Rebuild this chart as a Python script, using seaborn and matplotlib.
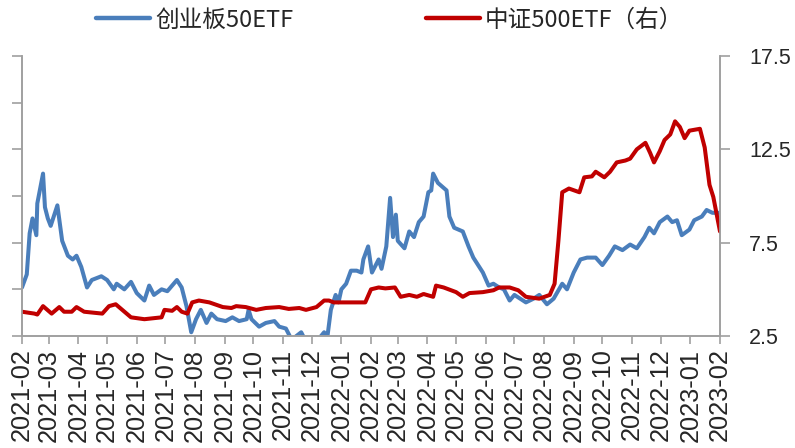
import pandas as pd
import seaborn as sns
import matplotlib.pyplot as plt
import matplotlib.dates as mdates
from matplotlib.lines import Line2D

# series
blue_name = "创业板50ETF"
red_name = "中证500ETF（右）"

blue_dates = ["2021-02-01", "2021-02-06", "2021-02-09", "2021-02-12", "2021-02-16", "2021-02-17", "2021-02-23", "2021-02-25", "2021-02-28", "2021-03-03",
              "2021-03-10", "2021-03-15", "2021-03-21", "2021-03-26", "2021-03-30", "2021-04-04", "2021-04-10", "2021-04-15", "2021-04-25", "2021-05-01",
              "2021-05-08", "2021-05-11", "2021-05-19", "2021-05-26", "2021-06-01", "2021-06-09", "2021-06-14", "2021-06-19", "2021-06-27", "2021-07-03",
              "2021-07-13", "2021-07-18", "2021-07-23", "2021-07-28", "2021-08-02", "2021-08-07", "2021-08-13", "2021-08-18", "2021-08-24", "2021-09-02",
              "2021-09-09", "2021-09-16", "2021-09-24", "2021-09-26", "2021-09-29", "2021-10-07", "2021-10-14", "2021-10-23", "2021-10-28", "2021-11-04",
              "2021-11-10", "2021-11-20", "2021-11-25", "2021-12-06", "2021-12-14", "2021-12-17", "2021-12-21", "2021-12-26", "2021-12-29", "2022-01-01",
              "2022-01-06", "2022-01-11", "2022-01-17", "2022-01-22", "2022-01-24", "2022-01-29", "2022-02-02", "2022-02-09", "2022-02-12", "2022-02-17",
              "2022-02-21", "2022-02-24", "2022-02-27", "2022-03-01", "2022-03-08", "2022-03-13", "2022-03-18", "2022-03-23", "2022-03-28", "2022-04-02",
              "2022-04-05", "2022-04-07", "2022-04-12", "2022-04-21", "2022-04-24", "2022-04-29", "2022-05-08", "2022-05-14", "2022-05-19", "2022-05-24",
              "2022-05-29", "2022-06-04", "2022-06-09", "2022-06-15", "2022-06-20", "2022-06-26", "2022-07-01", "2022-07-13", "2022-07-21", "2022-07-27",
              "2022-08-04", "2022-08-11", "2022-08-20", "2022-08-25", "2022-09-01", "2022-09-08", "2022-09-15", "2022-09-24", "2022-10-01", "2022-10-08",
              "2022-10-14", "2022-10-22", "2022-10-30", "2022-11-06", "2022-11-14", "2022-11-19", "2022-11-24", "2022-11-30", "2022-12-08", "2022-12-13",
              "2022-12-18", "2022-12-23", "2022-12-31", "2023-01-05", "2023-01-13", "2023-01-18", "2023-01-24", "2023-02-01"]
blue_values = [5.1, 5.8, 8.0, 8.8, 7.9, 9.6, 11.2, 9.4, 8.8, 8.4,
               9.5, 7.6, 6.8, 6.6, 6.8, 6.2, 5.1, 5.5, 5.7, 5.5,
               5.0, 5.3, 5.0, 5.4, 4.8, 4.4, 5.2, 4.7, 5.0, 4.9,
               5.5, 5.1, 4.1, 2.7, 3.4, 3.9, 3.2, 3.7, 3.4, 3.3,
               3.5, 3.3, 3.4, 3.9, 3.4, 3.0, 3.2, 3.3, 3.0, 2.9,
               2.3, 2.7, 2.2, 2.2, 2.7, 2.3, 3.9, 4.7, 4.3, 5.0,
               5.3, 6.0, 6.0, 5.9, 6.6, 7.3, 5.9, 6.6, 6.1, 7.3,
               9.9, 7.8, 9.0, 7.6, 7.2, 8.1, 7.8, 8.6, 8.9, 10.2,
               10.3, 11.2, 10.7, 10.3, 8.9, 8.3, 8.1, 7.3, 6.7, 6.3,
               5.9, 5.2, 5.3, 5.1, 5.0, 4.4, 4.7, 4.3, 4.5, 4.7,
               4.2, 4.5, 5.3, 5.0, 5.9, 6.6, 6.7, 6.7, 6.3, 6.8,
               7.3, 7.1, 7.4, 7.2, 7.8, 8.3, 8.0, 8.6, 8.9, 8.6,
               8.7, 7.9, 8.2, 8.7, 8.9, 9.25, 9.1, 9.1]

red_dates = ["2021-02-01", "2021-02-14", "2021-02-17", "2021-02-23", "2021-03-04", "2021-03-12", "2021-03-17", "2021-03-25", "2021-03-30", "2021-04-07",
             "2021-04-26", "2021-05-03", "2021-05-10", "2021-05-26", "2021-06-09", "2021-06-27", "2021-06-30", "2021-07-08", "2021-07-13", "2021-07-18",
             "2021-07-24", "2021-07-29", "2021-08-05", "2021-08-16", "2021-08-30", "2021-09-08", "2021-09-13", "2021-09-23", "2021-10-04", "2021-10-14",
             "2021-10-28", "2021-11-07", "2021-11-18", "2021-11-25", "2021-12-06", "2021-12-14", "2021-12-19", "2021-12-24", "2022-01-26", "2022-02-01",
             "2022-02-09", "2022-02-16", "2022-02-26", "2022-03-04", "2022-03-13", "2022-03-21", "2022-03-28", "2022-04-07", "2022-04-10", "2022-04-18",
             "2022-05-01", "2022-05-08", "2022-05-15", "2022-05-29", "2022-06-09", "2022-06-15", "2022-06-26", "2022-07-05", "2022-07-13", "2022-07-27",
             "2022-08-07", "2022-08-12", "2022-08-16", "2022-08-20", "2022-08-27", "2022-09-07", "2022-09-12", "2022-09-20", "2022-09-24", "2022-10-03",
             "2022-10-09", "2022-10-16", "2022-10-25", "2022-10-30", "2022-11-06", "2022-11-15", "2022-11-20", "2022-11-24", "2022-11-30", "2022-12-05",
             "2022-12-11", "2022-12-16", "2022-12-21", "2022-12-26", "2022-12-31", "2023-01-11", "2023-01-16", "2023-01-21", "2023-01-25", "2023-02-01"]
red_values = [3.8, 3.7, 3.65, 4.1, 3.7, 4.05, 3.8, 3.8, 4.05, 3.8,
              3.7, 4.1, 4.2, 3.5, 3.4, 3.5, 3.9, 3.85, 4.05, 3.8,
              3.7, 4.3, 4.4, 4.3, 4.05, 4.0, 4.1, 4.05, 3.9, 4.0,
              4.05, 3.95, 4.0, 3.9, 4.05, 4.4, 4.4, 4.3, 4.3, 5.0,
              5.1, 5.05, 5.1, 4.6, 4.7, 4.6, 4.75, 4.6, 5.2, 5.1,
              4.85, 4.6, 4.8, 4.85, 4.95, 5.1, 5.1, 4.95, 4.6, 4.5,
              4.7, 5.3, 7.6, 10.2, 10.4, 10.2, 11.0, 11.05, 11.3, 11.0,
              11.3, 11.8, 11.9, 12.0, 12.5, 12.85, 12.3, 11.8, 12.4, 13.0,
              13.3, 14.0, 13.7, 13.1, 13.5, 13.6, 12.6, 10.6, 9.95, 8.1]

right_ticks = [2.5, 7.5, 12.5, 17.5]
left_ticks = [2.5, 5.0, 7.5, 10.0, 12.5, 15.0, 17.5]

blue_df = pd.DataFrame({"date": pd.to_datetime(blue_dates), "value": blue_values})
red_df = pd.DataFrame({"date": pd.to_datetime(red_dates), "value": red_values})

sns.set_style("white")
plt.rcParams["font.family"] = ["Liberation Sans", "Noto Sans CJK SC", "DejaVu Sans"]

blue = "#4A7EBB"
red = "#C00000"
grey = "#A0A0A0"

fig = plt.figure(figsize=(7.95, 4.48), dpi=100)
ax = fig.add_axes([22 / 795, 1 - 336 / 448, (720 - 22) / 795, (336 - 56) / 448])
ax2 = ax.twinx()

sns.lineplot(data=blue_df, x="date", y="value", ax=ax, color=blue, linewidth=2.9, legend=False)
sns.lineplot(data=red_df, x="date", y="value", ax=ax2, color=red, linewidth=2.9, legend=False)

ax.set_xlim(pd.Timestamp("2021-02-01"), pd.Timestamp("2023-02-01"))
ax.set_ylim(2.5, 17.5)
ax2.set_ylim(2.5, 17.5)
ax.set_yticks(left_ticks)
ax2.set_yticks(right_ticks)
ax2.set_yticklabels([str(t) for t in right_ticks])
ax.set_xlabel("")
ax.set_ylabel("")
ax2.set_ylabel("")

ax.xaxis.set_major_locator(mdates.MonthLocator())
ax.xaxis.set_major_formatter(mdates.DateFormatter("%Y-%m"))

for a in (ax, ax2):
    for side in ("left", "right", "bottom"):
        a.spines[side].set_color(grey)
        a.spines[side].set_linewidth(1.2)
    a.spines["top"].set_visible(False)

# labels kept a little smaller than the source so they fit inside the canvas
ax.tick_params(axis="x", direction="out", length=6, width=1.2, color=grey,
               labelsize=18.3, rotation=90, pad=3, bottom=True)
ax.tick_params(axis="y", direction="out", length=7, width=1.2, color=grey,
               left=True, labelleft=False)
ax2.tick_params(axis="y", direction="out", length=7, width=1.2, color=grey,
                right=True, labelsize=15.5, pad=14)

handles = [Line2D([], [], color=blue, linewidth=3.2), Line2D([], [], color=red, linewidth=3.2)]
fig.legend(handles, [blue_name, red_name], loc="center", bbox_to_anchor=(0.49, 0.955),
           ncol=2, frameon=False, handlelength=2.3, handletextpad=0.2, columnspacing=5.6,
           prop={"family": ["Noto Sans CJK SC"], "size": 17})

fig.savefig("out.png", dpi=100)
